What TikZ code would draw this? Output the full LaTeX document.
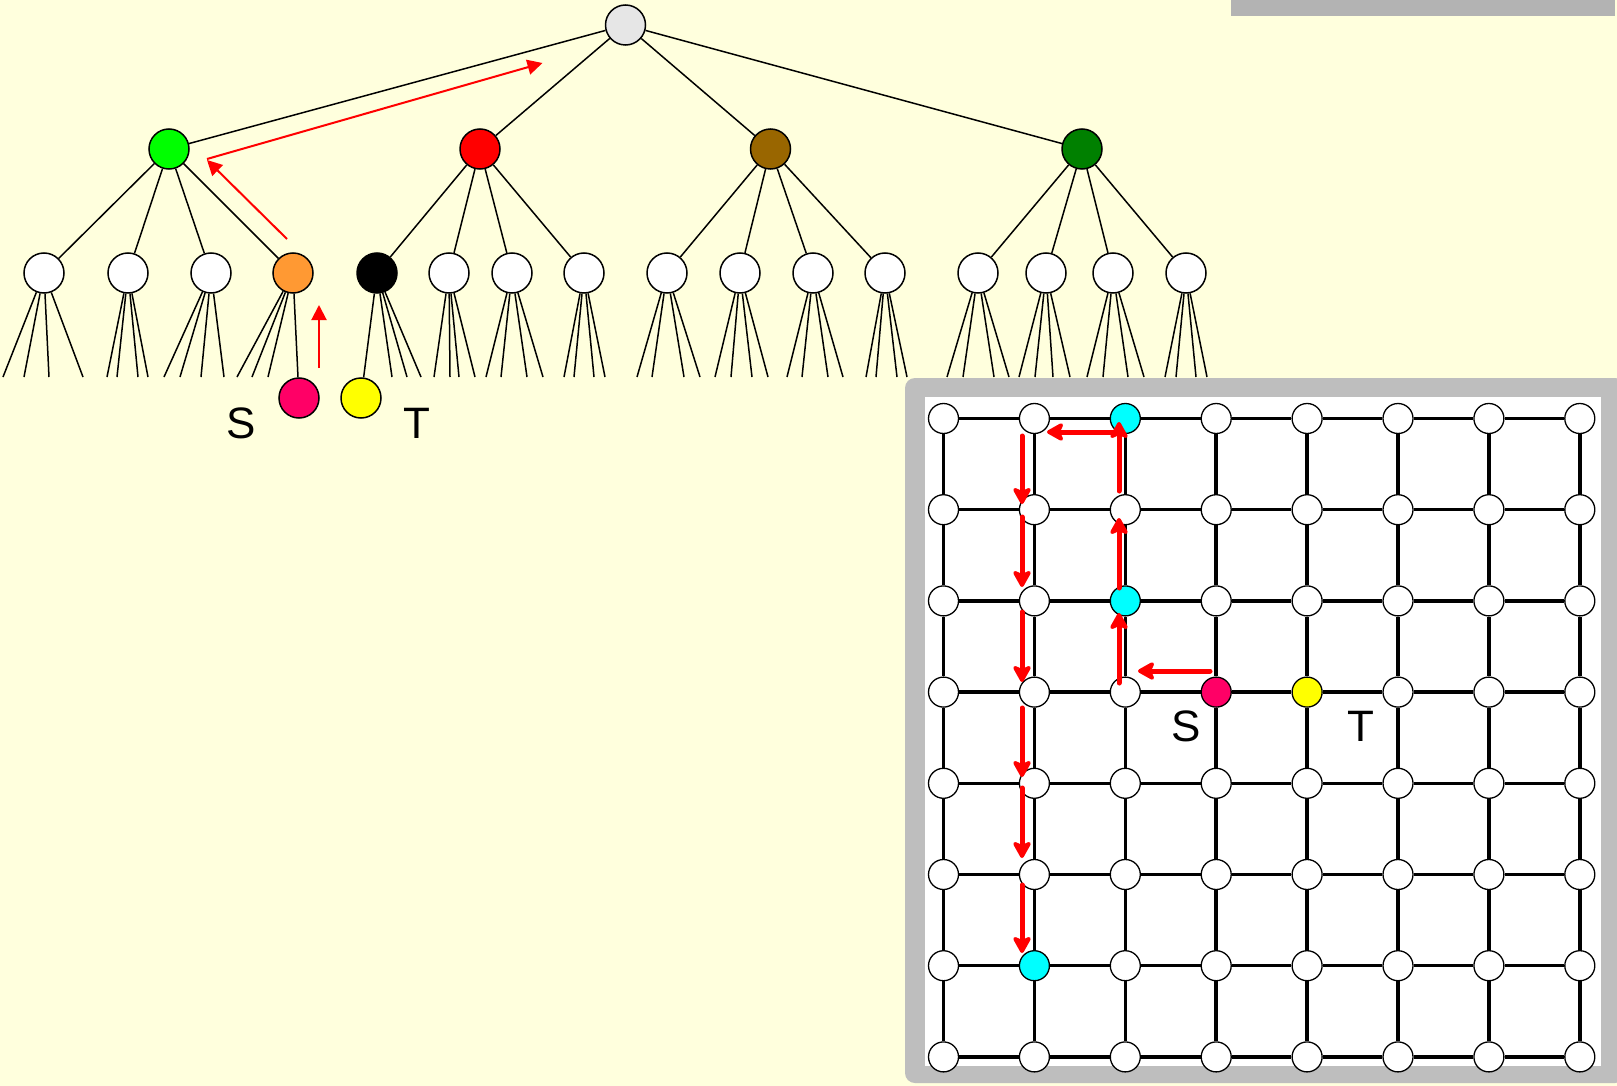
\documentclass[tikz,border=0pt]{standalone}
\usepackage{fontspec}
\setmainfont{Liberation Sans}
\usetikzlibrary{arrows.meta}
\definecolor{bgy}{RGB}{255,255,221}
\definecolor{framegray}{RGB}{190,190,190}
\definecolor{bargray}{RGB}{179,179,179}
\definecolor{rootg}{RGB}{230,230,230}
\definecolor{lgreen}{RGB}{0,255,0}
\definecolor{lred}{RGB}{255,0,0}
\definecolor{lbrown}{RGB}{153,102,0}
\definecolor{dgreen}{RGB}{0,128,0}
\definecolor{lorange}{RGB}{255,153,51}
\definecolor{spink}{RGB}{255,0,102}
\definecolor{tyellow}{RGB}{255,255,0}
\definecolor{cyanc}{RGB}{0,255,255}
\begin{document}
\begin{tikzpicture}[x=1pt,y=-1pt,
  tnode/.style={circle,draw=black,line width=1.5pt,minimum size=40pt,inner sep=0pt},
  gnode/.style={circle,draw=black,line width=1.3pt,minimum size=30pt,inner sep=0pt},
  tedge/.style={line width=1.5pt},
  gedge/.style={line width=3.5pt},
  tarrow/.style={draw=red,line width=2pt,-{Triangle[length=15pt,width=15pt]}},
  garrow/.style={draw=red,line width=5pt,line cap=round,-{Stealth[length=20pt,width=22pt,inset=5pt,round]}},
  lbl/.style={inner sep=0pt,font=\fontsize{44}{50}\selectfont}]
\useasboundingbox (0,0) rectangle (1617,1086);
\fill[bgy] (0,0) rectangle (1617,1086);
% top-right bar
\fill[bargray] (1231,0) rectangle (1615,16);
% grid panel
\fill[framegray,rounded corners=10pt] (905,378) rectangle (1625,1083);
\fill[white] (925,397) rectangle (1601,1066);

% ---------- tree ----------
\node[tnode,fill=rootg] (root) at (625.5,25) {};
\node[tnode,fill=lgreen] (a1) at (169,149) {};
\node[tnode,fill=lred] (a2) at (480,149) {};
\node[tnode,fill=lbrown] (a3) at (770.5,149) {};
\node[tnode,fill=dgreen] (a4) at (1082,149) {};
\foreach \i/\x in {1/44,2/128,3/211,6/449,7/512,8/584,9/667,10/740,11/813,12/885,13/978,14/1046,15/1113,16/1186}
  \node[tnode,fill=white] (l\i) at (\x,273) {};
\node[tnode,fill=lorange] (l4) at (293,273) {};
\node[tnode,fill=black] (l5) at (377,273) {};
\node[tnode,fill=spink] (s1) at (299,398) {};
\node[tnode,fill=tyellow] (t1) at (361,398) {};

\foreach \a in {a1,a2,a3,a4} \draw[tedge] (root) -- (\a);
\foreach \l in {l1,l2,l3,l4} \draw[tedge] (a1) -- (\l);
\foreach \l in {l5,l6,l7,l8} \draw[tedge] (a2) -- (\l);
\foreach \l in {l9,l10,l11,l12} \draw[tedge] (a3) -- (\l);
\foreach \l in {l13,l14,l15,l16} \draw[tedge] (a4) -- (\l);
\draw[tedge] (l4) -- (s1);
\draw[tedge] (l5) -- (t1);

\foreach \i/\ends in {1/{3,24,49,83},2/{107,117,138,148},3/{164,180,201,224},4/{237,252,268},
  5/{392,407,421},6/{434,450,459,475},7/{486,501,527,543},8/{564,574,594,605},
  9/{637,652,684,700},10/{715,731,752,768},11/{787,802,828,843},12/{866,876,897,907},
  13/{947,963,994,1009},14/{1019,1035,1053,1070},15/{1087,1103,1128,1144},16/{1165,1176,1196,1207}}
  {\foreach \e in \ends \draw[tedge] (l\i) -- (\e,377);}

\node[lbl] (slab1) at (241,423) {S};
\node[lbl] (tlab1) at (417,423) {T};

\draw[tarrow] (319,368) -- (319,305);
\draw[tarrow] (287,239) -- (207,160);
\draw[tarrow] (207,159) -- (542.5,63);

% ---------- grid ----------
\foreach \i in {0,...,7}{
  \foreach \j in {0,...,7}{
    \def\fc{white}
    \ifnum\i\j=20 \def\fc{cyanc}\fi
    \ifnum\i\j=22 \def\fc{cyanc}\fi
    \ifnum\i\j=16 \def\fc{cyanc}\fi
    \ifnum\i\j=33 \def\fc{spink}\fi
    \ifnum\i\j=43 \def\fc{tyellow}\fi
    \node[gnode,fill=\fc] (g\i-\j) at ({943.5+90.9*\i},{418.5+91.2*\j}) {};
  }
}
\foreach \i in {0,...,6}{
  \foreach \j in {0,...,7}{
    \pgfmathtruncatemacro\ni{\i+1}
    \draw[gedge] (g\i-\j) -- (g\ni-\j);
    \draw[gedge] (g\j-\i) -- (g\j-\ni);
  }
}

\node[lbl] (slab2) at (1186,726) {S};
\node[lbl] (tlab2) at (1361,726) {T};

% path arrows
\draw[garrow] (1210,671) -- (1138,671);
\draw[garrow] (1119,683) -- (1119,613);
\draw[garrow] (1119,588) -- (1119,518);
\draw[garrow] (1119,491) -- (1119,422);
\draw[garrow] (1118,432) -- (1047,432);
\draw[garrow] (1022,436) -- (1022,504);
\draw[garrow] (1022,517) -- (1022,587);
\draw[garrow] (1022,612) -- (1022,682);
\draw[garrow] (1022,708) -- (1022,777);
\draw[garrow] (1022,788) -- (1022,858);
\draw[garrow] (1022,885) -- (1022,953);
\end{tikzpicture}
\end{document}
